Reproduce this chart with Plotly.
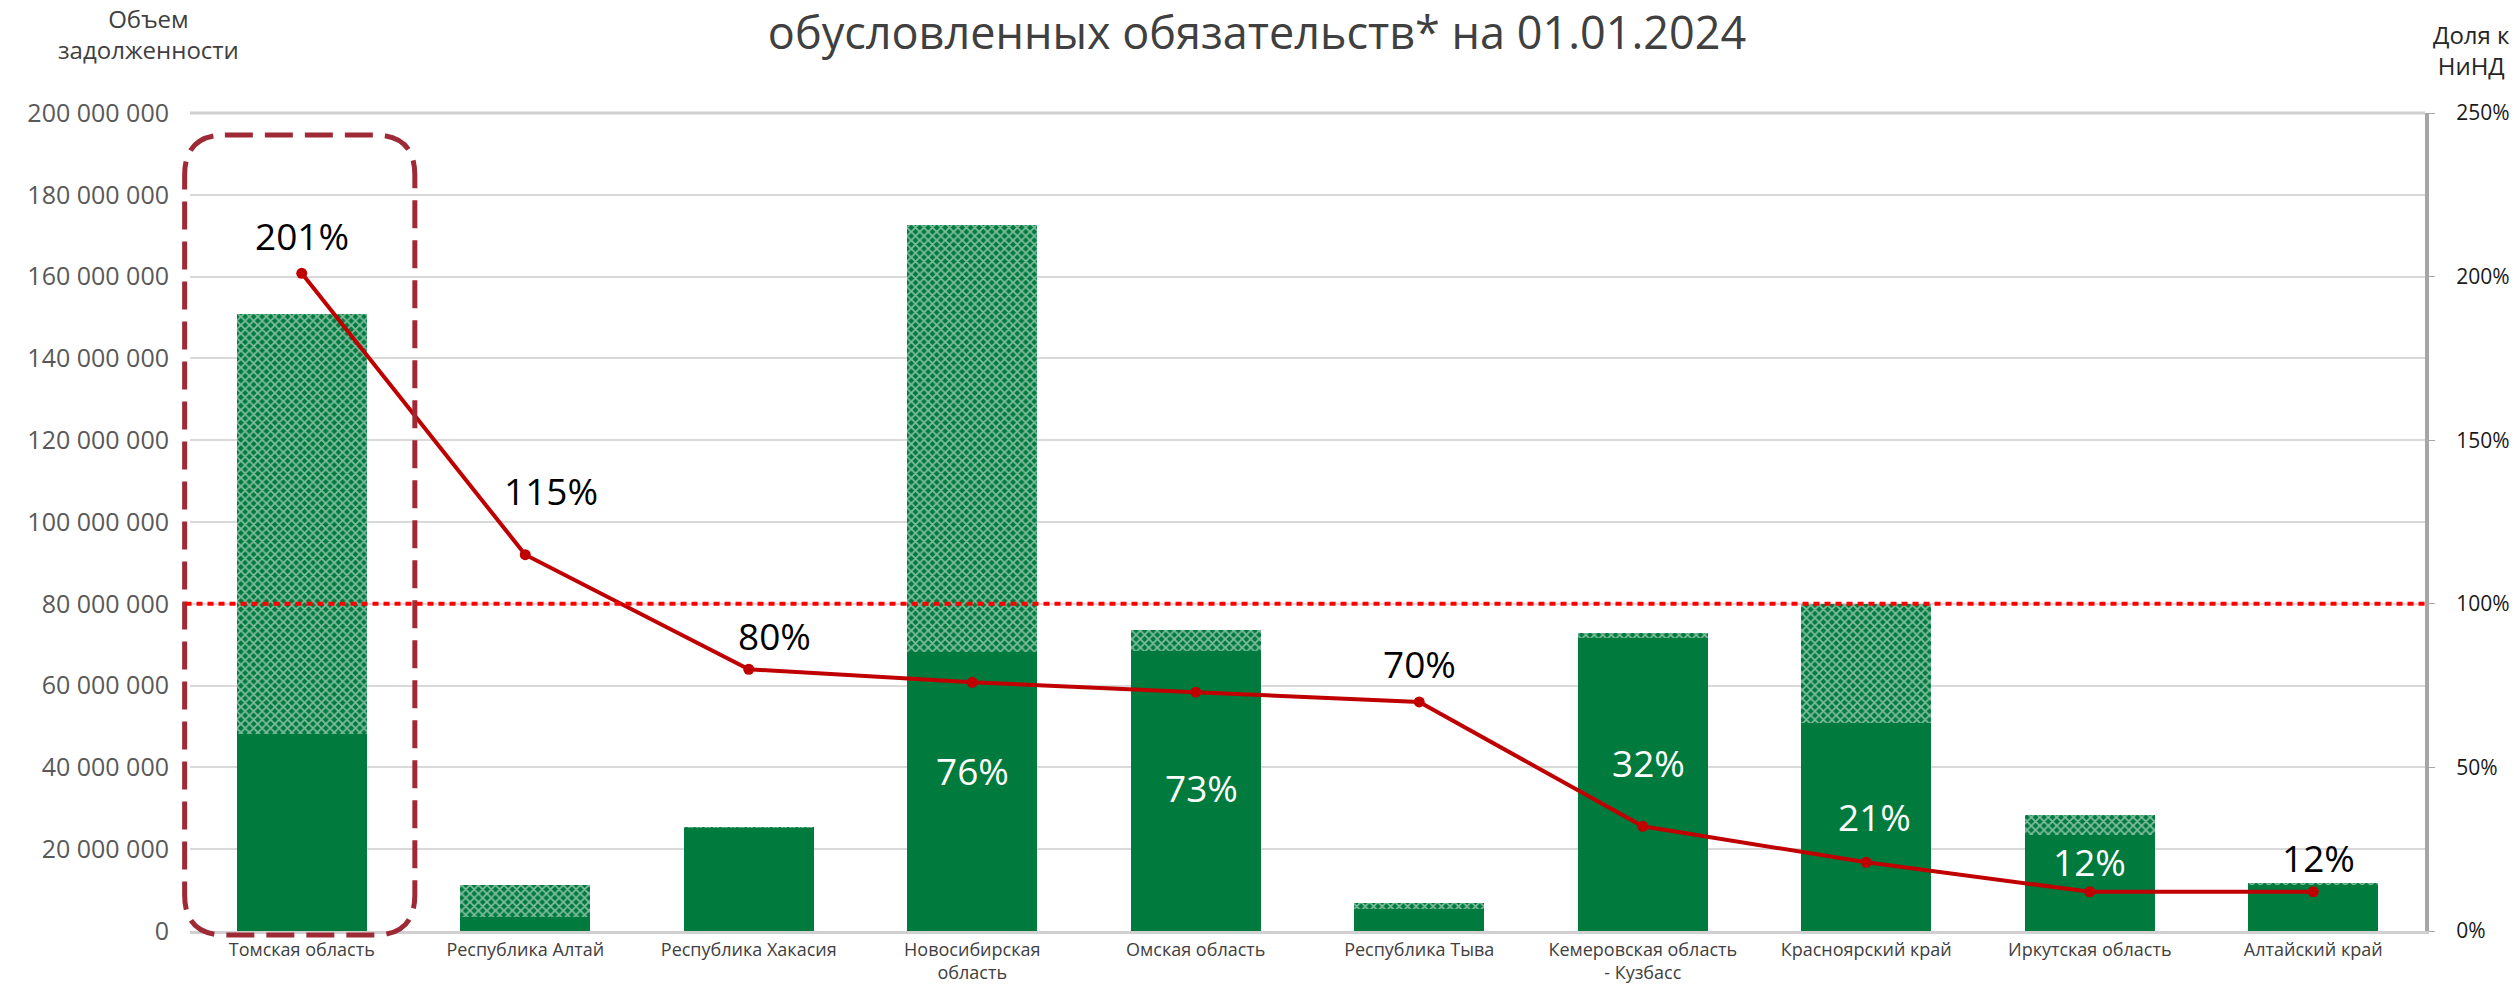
import plotly.graph_objects as go

categories = ["Томская область", "Республика Алтай", "Республика Хакасия",
              "Новосибирская<br>область", "Омская область", "Республика Тыва",
              "Кемеровская область<br>- Кузбасс", "Красноярский край",
              "Иркутская область", "Алтайский край"]
# debt volume, rubles (solid part) and additional obligations (patterned part)
debt_main = [48.1e6, 3.5e6, 25.2e6, 68.2e6, 68.5e6, 5.3e6, 71.6e6, 50.9e6, 23.5e6, 11.4e6]
debt_total = [150.9e6, 11.2e6, 25.4e6, 172.6e6, 73.6e6, 6.8e6, 72.8e6, 80.0e6, 28.4e6, 11.8e6]
debt_extra = [t - m for t, m in zip(debt_total, debt_main)]
share = [2.01, 1.15, 0.80, 0.76, 0.73, 0.70, 0.32, 0.21, 0.12, 0.12]
share_labels = ["201%", "115%", "80%", "76%", "73%", "70%", "32%", "21%", "12%", "12%"]
threshold_debt = 80e6
y_max = 200e6
x_idx = list(range(len(categories)))

# label styling (offsets in pixels from the point, colours)
label_dy = [38, 64, 34, -88, -95, 38, 64, 46, 30, 34]
label_dx = [0, 26, 26, 0, 6, 0, 6, 8, 0, 5]
label_color = ["#000000", "#000000", "#000000", "#FFFFFF", "#FFFFFF",
               "#000000", "#FFFFFF", "#FFFFFF", "#FFFFFF", "#000000"]

GREEN = "#007A3D"
FONT = "Open Sans"

fig = go.Figure()
fig.add_trace(go.Bar(x=x_idx, y=debt_main, marker=dict(color=GREEN, line=dict(width=0)),
                     width=0.58, showlegend=False, hoverinfo="skip"))
fig.add_trace(go.Bar(x=x_idx, y=debt_extra,
                     marker=dict(color=GREEN, line=dict(width=0),
                                 pattern=dict(shape="x", fgcolor="#FFFFFF", bgcolor=GREEN,
                                              size=6, solidity=0.5)),
                     width=0.58, showlegend=False, hoverinfo="skip"))
fig.add_trace(go.Scatter(x=x_idx, y=share, yaxis="y2", mode="lines+markers",
                         line=dict(color="#C00000", width=4),
                         marker=dict(color="#C00000", size=11),
                         showlegend=False, hoverinfo="skip"))

annotations = []
for xi, s, t, dy, dx, c in zip(x_idx, share, share_labels, label_dy, label_dx, label_color):
    annotations.append(dict(x=xi, y=s, xref="x", yref="y2", text=t, showarrow=False,
                            xanchor="center", yanchor="middle", xshift=dx, yshift=dy,
                            font=dict(family=FONT, size=37, color=c)))

# highlight box around first category (converted to paper coords via axis ranges)
xr = (-0.5, len(categories) - 0.5)
def xp(v):
    return (v - xr[0]) / (xr[1] - xr[0])
def yp(v):
    return v / y_max
x0, x1 = xp(-0.524), xp(0.506)
y0, y1 = yp(-1.0e6), yp(194.6e6)
rx, ry = 0.018, 0.049
path = (f"M {x0+rx},{y1} L {x1-rx},{y1} Q {x1},{y1} {x1},{y1-ry} "
        f"L {x1},{y0+ry} Q {x1},{y0} {x1-rx},{y0} L {x0+rx},{y0} "
        f"Q {x0},{y0} {x0},{y0+ry} L {x0},{y1-ry} Q {x0},{y1} {x0+rx},{y1} Z")
fig.add_shape(type="path", path=path, xref="paper", yref="paper",
              line=dict(color="#9E2A35", width=5, dash="28px,12px"), layer="above")

fig.add_shape(type="line", xref="paper", yref="y", x0=-0.002, x1=1, y0=threshold_debt, y1=threshold_debt,
              line=dict(color="#FF0000", width=4, dash="6px,5px"), layer="above")

annotations += [
    dict(text="Объем<br>задолженности", xref="paper", yref="paper",
         x=(148 - 190) / 2235, y=(931 - 34) / 818, xanchor="center", yanchor="middle",
         showarrow=False, font=dict(family=FONT, size=24, color="#404040")),
    dict(text="Доля к<br>НиНД", xref="paper", yref="paper",
         x=(2512 - 190) / 2235, y=(931 - 50) / 818, xanchor="right", yanchor="middle",
         align="center", showarrow=False, font=dict(family=FONT, size=24, color="#262626")),
]

fig.update_layout(
    width=2514, height=986,
    margin=dict(l=190, r=89, t=113, b=55),
    paper_bgcolor="white", plot_bgcolor="white",
    barmode="stack", separators=", ",
    font=dict(family=FONT, color="#404040"),
    title=dict(text="обусловленных обязательств* на 01.01.2024", x=0.5, xanchor="center",
               y=1 - 33 / 986, yanchor="middle", yref="container", automargin=False,
               font=dict(family=FONT, size=45, color="#404040")),
    xaxis=dict(range=list(xr), tickmode="array", tickvals=x_idx, ticktext=categories,
               tickfont=dict(size=18, color="#404040"), showgrid=False, automargin=False,
               showline=True, linecolor="#D0D0D0", linewidth=3, ticks="", zeroline=False,
               ticklabelstandoff=0),
    yaxis=dict(range=[0, y_max], dtick=20e6, tickformat=",d", automargin=False,
               tickfont=dict(size=25, color="#595959"), showgrid=True,
               gridcolor="#D9D9D9", gridwidth=2, zeroline=False, showline=False,
               ticklabelstandoff=20),
    yaxis2=dict(range=[0, 2.5], dtick=0.5, tickformat=".0%", overlaying="y", side="right",
                tickfont=dict(size=21, color="#1A1A1A"), showgrid=False, zeroline=False,
                automargin=False,
                showline=True, linecolor="#A6A6A6", linewidth=4, ticks="outside",
                ticklen=6, tickcolor="#A6A6A6", ticklabelstandoff=17),
    annotations=annotations,
)
fig.add_shape(type="line", xref="paper", yref="paper", x0=0, x1=1, y0=1, y1=1,
              line=dict(color="#D0D0D0", width=3), layer="below")

fig.write_html("out.html", config={"displayModeBar": False},
               post_script="document.body.style.margin='0';document.body.style.overflow='hidden';")
